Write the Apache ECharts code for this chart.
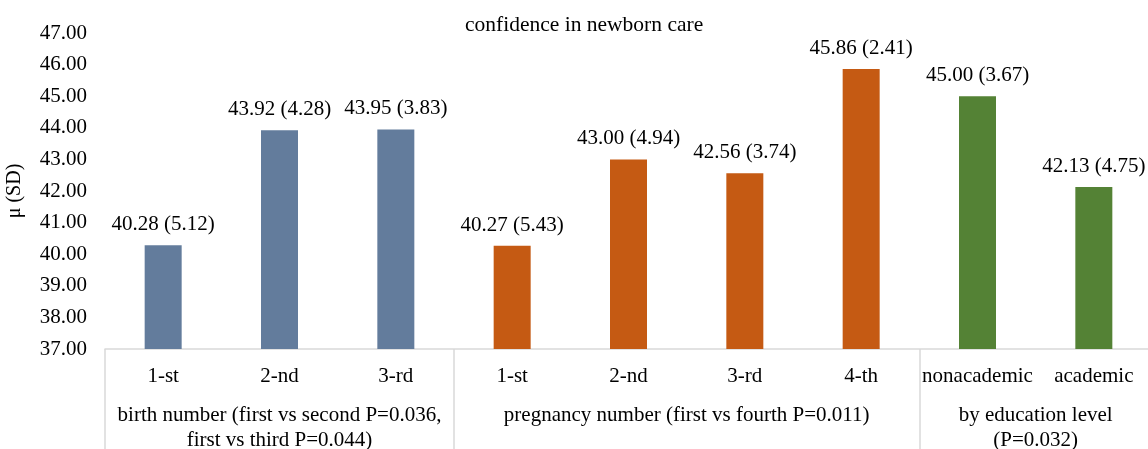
<!DOCTYPE html>
<html>
<head>
<meta charset="utf-8">
<script src="https://cdn.jsdelivr.net/npm/echarts@6/dist/echarts.min.js"></script>
<style>
  html, body { margin: 0; padding: 0; background: #fff; }
  #app { width: 1148px; height: 449px; }
</style>
</head>
<body>
<div id="app"></div>
<script>
const categories = ['1-st', '2-nd', '3-rd', '1-st', '2-nd', '3-rd', '4-th', 'nonacademic', 'academic'];
const means = [40.28, 43.92, 43.95, 40.27, 43.00, 42.56, 45.86, 45.00, 42.13];
const sds = ['5.12', '4.28', '3.83', '5.43', '4.94', '3.74', '2.41', '3.67', '4.75'];
const groupOf = [0, 0, 0, 1, 1, 1, 1, 2, 2];
const groupNames = [
  'birth number (first vs second P=0.036,\nfirst vs third P=0.044)',
  'pregnancy number (first vs fourth P=0.011)',
  'by education level\n(P=0.032)'
];
// group borders and centres, in category units
const groupEdges = [0, 3, 7, 9];
const groupCentres = [1.5, 5, 8];
const yTicks = [37, 38, 39, 40, 41, 42, 43, 44, 45, 46, 47];

const colors = ['#637c9c', '#c55a13', '#548235'];
const font = 'Liberation Serif';

const chart = echarts.init(document.getElementById('app'));

const option = {
  animation: false,
  textStyle: { fontFamily: font, color: '#000' },
  title: {
    text: 'confidence in newborn care',
    left: 460,
    top: 9,
    textStyle: { fontFamily: font, fontSize: 21.5, fontWeight: 'normal', color: '#000' }
  },
  grid: { left: 105, right: -4, top: 33, bottom: 100, containLabel: false, outerBoundsMode: 'none' },
  xAxis: [
    {
      type: 'category',
      data: categories,
      axisLine: { lineStyle: { color: '#d9d9d9', width: 1.5 } },
      axisTick: { show: false },
      axisLabel: { fontFamily: font, fontSize: 21, color: '#000', margin: 17, interval: 0 }
    },
    {
      type: 'value',
      min: 0,
      max: 9,
      position: 'bottom',
      axisLine: { show: false },
      splitLine: { show: false },
      axisTick: {
        show: true,
        customValues: groupEdges,
        length: 100,
        lineStyle: { color: '#d9d9d9', width: 1.5 }
      },
      axisLabel: {
        customValues: groupCentres,
        formatter: v => groupNames[groupCentres.indexOf(v)],
        fontFamily: font,
        fontSize: 21,
        lineHeight: 25,
        color: '#000',
        margin: 54,
        verticalAlign: 'top'
      }
    }
  ],
  yAxis: {
    type: 'value',
    min: yTicks[0],
    max: yTicks[yTicks.length - 1],
    interval: 1,
    name: 'μ (SD)',
    nameLocation: 'middle',
    nameGap: 80,
    nameRotate: 90,
    nameTextStyle: { fontFamily: font, fontSize: 20, color: '#000' },
    axisLine: { show: false },
    axisTick: { show: false },
    splitLine: { show: false },
    axisLabel: {
      fontFamily: font, fontSize: 21, color: '#000', margin: 18,
      formatter: v => v.toFixed(2)
    }
  },
  series: [{
    type: 'bar',
    xAxisIndex: 0,
    barWidth: 37,
    data: means.map((v, i) => ({ value: v, itemStyle: { color: colors[groupOf[i]] } })),
    label: {
      show: true,
      position: 'top',
      distance: 10,
      fontFamily: font,
      fontSize: 21,
      color: '#000',
      formatter: p => p.value.toFixed(2) + ' (' + sds[p.dataIndex] + ')'
    }
  }]
};

chart.setOption(option);
</script>
</body>
</html>
